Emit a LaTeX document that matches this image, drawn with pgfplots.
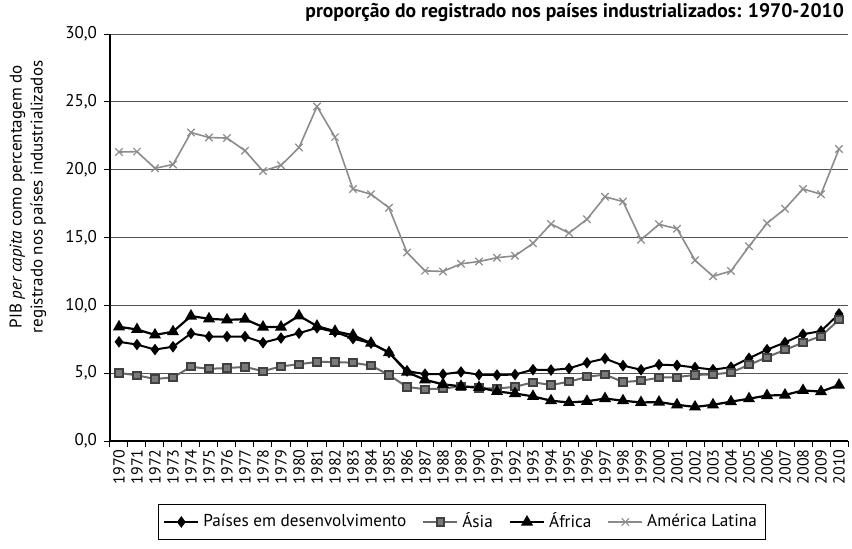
\documentclass[border=0pt]{standalone}
\usepackage{pgfplots}
\usepackage{pgfplotstable}
\pgfplotsset{compat=1.18}
\usepackage{fontspec}
\setmainfont{PT Sans}
\definecolor{lagray}{HTML}{8C8C8C}
\definecolor{asiagray}{HTML}{6A6A6A}
\definecolor{asiafill}{HTML}{7A7A7A}
\definecolor{gridgray}{HTML}{555555}

\pgfplotstableread{
year dev asia africa latam
1970 7.31 5.02 8.42 21.30
1971 7.11 4.84 8.22 21.33
1972 6.74 4.57 7.82 20.10
1973 6.95 4.69 8.06 20.38
1974 7.93 5.47 9.21 22.74
1975 7.70 5.32 9.01 22.37
1976 7.70 5.38 8.93 22.33
1977 7.70 5.46 8.98 21.40
1978 7.25 5.15 8.40 19.90
1979 7.59 5.50 8.40 20.32
1980 7.95 5.66 9.23 21.63
1981 8.34 5.83 8.47 24.65
1982 8.04 5.82 8.09 22.40
1983 7.55 5.77 7.80 18.57
1984 7.21 5.56 7.21 18.19
1985 6.52 4.87 6.52 17.19
1986 5.16 3.98 5.08 13.90
1987 4.93 3.82 4.51 12.54
1988 4.92 3.86 4.18 12.50
1989 5.09 4.03 4.03 13.06
1990 4.89 3.90 3.95 13.23
1991 4.86 3.87 3.65 13.51
1992 4.90 3.99 3.50 13.65
1993 5.26 4.33 3.29 14.57
1994 5.23 4.13 2.97 16.00
1995 5.35 4.37 2.84 15.33
1996 5.77 4.73 2.93 16.35
1997 6.08 4.90 3.13 18.00
1998 5.56 4.35 2.97 17.65
1999 5.25 4.44 2.84 14.83
2000 5.63 4.67 2.87 15.97
2001 5.58 4.71 2.67 15.65
2002 5.42 4.87 2.51 13.32
2003 5.26 4.91 2.67 12.14
2004 5.44 5.05 2.90 12.53
2005 6.10 5.61 3.12 14.35
2006 6.73 6.18 3.35 16.05
2007 7.26 6.72 3.39 17.12
2008 7.87 7.25 3.73 18.58
2009 8.10 7.73 3.64 18.19
2010 9.37 8.93 4.12 21.52
}\data

\begin{document}
\begin{tikzpicture}
\begin{axis}[
  scale only axis,
  width=369pt, height=203.5pt,
  xmin=1969.5, xmax=2010.5,
  ymin=0, ymax=30,
  axis lines*=left,
  axis line style={black, line width=0.6pt},
  tick align=outside,
  major tick length=3pt,
  tick style={black, line width=0.5pt},
  xtick={1969.5,1970.5,...,2010.5},
  x tick label as interval,
  xticklabel={\pgfmathtruncatemacro\yr{round(\tick+0.5)}\yr},
  xticklabel style={rotate=90, anchor=east, font=\fontsize{8}{9}\selectfont, inner sep=1pt},
  ytick={0,5,...,30},
  yticklabel style={/pgf/number format/.cd, fixed, fixed zerofill, precision=1, use comma, /tikz/.cd, font=\fontsize{8.5}{10}\selectfont},
  /pgf/number format/assume math mode=true,
  ymajorgrids,
  grid style={gridgray, line width=0.5pt},
  clip=false,
  legend columns=4,
  legend style={at={(0.477,-0.199)}, anchor=center, draw=black, line width=0.5pt,
    font=\fontsize{8.6}{10}\selectfont, inner sep=2.5pt,
    /tikz/every even column/.append style={column sep=6pt}},
]
\addplot[black, line width=1pt, mark=diamond*, mark size=2.1pt, mark options={fill=black}] table[x=year,y=dev] {\data};
\addlegendentry{Países em desenvolvimento}
\addplot[asiagray, line width=1pt, mark=square*, mark size=1.8pt, mark options={fill=asiafill, draw=black!75}] table[x=year,y=asia] {\data};
\addlegendentry{Ásia}
\addplot[black, line width=1.1pt, mark=triangle*, mark size=2.4pt, mark options={fill=black}] table[x=year,y=africa] {\data};
\addlegendentry{África}
\addplot[lagray, line width=0.8pt, mark=x, mark size=2.6pt, mark options={lagray, line width=0.6pt}] table[x=year,y=latam] {\data};
\addlegendentry{América Latina}
\coordinate (bl) at (rel axis cs:0,0);
\node[rotate=90, align=center, font=\fontsize{8.5}{10.5}\selectfont] at ([xshift=-41pt]rel axis cs:0,0.6)
  {PIB \textit{per capita} como percentagem do\\registrado nos países industrializados};
\end{axis}
\node[anchor=base east, font=\bfseries\fontsize{9.8}{11}\selectfont] at ([xshift=370.5pt,yshift=212pt]bl)
  {proporção do registrado nos países industrializados: 1970-2010};
\pgfresetboundingbox
\path[use as bounding box] ([xshift=-55pt,yshift=-53.5pt]bl) rectangle ([xshift=371pt,yshift=220.5pt]bl);
\end{tikzpicture}
\end{document}
